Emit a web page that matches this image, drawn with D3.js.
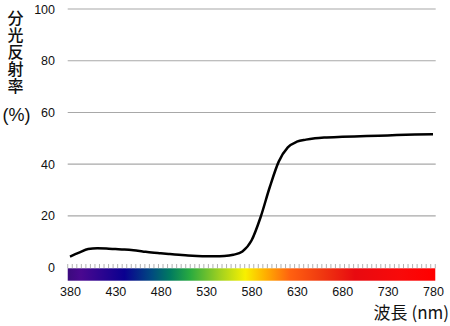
<!DOCTYPE html>
<html>
<head>
<meta charset="utf-8">
<script src="https://cdn.jsdelivr.net/npm/d3@7"></script>
<style>
  body { margin: 0; background: #fff; }
  svg text { font-family: "Liberation Sans", Arial, sans-serif; fill: #111; }
  .cjk { font-family: "Noto Sans CJK JP", "Noto Sans CJK SC", sans-serif; }
</style>
</head>
<body>
<svg id="chart" width="450" height="326"></svg>
<script>
// reflectance curve
let wavelengths = [380, 390, 400, 410, 420, 430, 440, 450, 460, 470, 480, 490, 500, 510, 520, 530, 540, 550,
                   560, 570, 580, 590, 600, 610, 620, 630, 640, 650, 660, 680, 700, 720, 740, 760, 780];
let reflectance = [4.3, 5.8, 7.2, 7.5, 7.4, 7.2, 7.0, 6.7, 6.3, 5.9, 5.6, 5.3, 5.0, 4.7, 4.5, 4.4, 4.4, 4.5,
                   5.0, 6.3, 10.5, 19.5, 31.0, 41.0, 46.5, 48.7, 49.5, 50.0, 50.3, 50.6, 50.8, 51.0, 51.3, 51.5, 51.6];

// spectrum bar colour stops
let specWl    = [380, 392, 440, 470, 490, 512, 545, 573, 595, 623, 656, 694, 743, 780];
let specColor = ["#3d0a80", "#4a0890", "#0a0090", "#004a80", "#007a60", "#28aa40", "#a0d020", "#f8f000",
                 "#ffb000", "#ff6010", "#f03a10", "#e80a10", "#f80a0a", "#ff0000"];

let xTicks = [380, 430, 480, 530, 580, 630, 680, 730, 780];
let yTicks = [0, 20, 40, 60, 80, 100];
let yTitle = "分光反射率";

let svg = d3.select("#chart");

let x = d3.scaleLinear().domain([380, 780]).range([70, 433]);
let y = d3.scaleLinear().domain([0, 100]).range([267.7, 9]);

let gridLeft = 67.7, gridRight = 435.7;

// gridlines (0 line sits under the spectrum bar)
svg.selectAll(".grid")
  .data(yTicks.filter(d => d > 0))
  .enter().append("line")
    .attr("class", "grid")
    .attr("x1", gridLeft).attr("x2", gridRight)
    .attr("y1", d => y(d)).attr("y2", d => y(d))
    .attr("stroke", "#a8a8a8")
    .attr("stroke-width", 1.2);

// y axis labels
svg.append("g")
  .attr("transform", "translate(55,0)")
  .call(d3.axisLeft(y).tickValues(yTicks).tickSize(0).tickPadding(0))
  .call(g => g.select(".domain").remove())
  .selectAll("text")
    .style("font-size", "12.5px")
    .attr("fill", "#111");

// y title, written vertically
svg.append("text")
  .attr("class", "cjk")
  .attr("x", 15.5)
  .attr("y", 10)
  .style("writing-mode", "vertical-rl")
  .style("font-size", "16px")
  .style("letter-spacing", "1px")
  .style("font-weight", "500")
  .text(yTitle);

svg.append("text")
  .attr("x", 16.5)
  .attr("y", 115)
  .attr("dy", "0.35em")
  .style("text-anchor", "middle")
  .style("font-size", "18px")
  .text("(%)");

// spectrum bar
let grad = svg.append("defs").append("linearGradient")
  .attr("id", "spec")
  .attr("gradientUnits", "userSpaceOnUse")
  .attr("x1", x(380)).attr("x2", x(780)).attr("y1", 0).attr("y2", 0);

grad.selectAll("stop")
  .data(specWl)
  .enter().append("stop")
    .attr("offset", d => (d - 380) / 400)
    .attr("stop-color", (d, i) => specColor[i]);

svg.append("rect")
  .attr("x", x(377.5))
  .attr("y", 268.3)
  .attr("width", x(782.5) - x(377.5))
  .attr("height", 12.4)
  .attr("fill", "url(#spec)");

// small ticks above the bar, every 5 nm
svg.selectAll(".mtick")
  .data(d3.range(377.5, 783, 5))
  .enter().append("line")
    .attr("class", "mtick")
    .attr("x1", d => x(d)).attr("x2", d => x(d))
    .attr("y1", 264).attr("y2", 268.3)
    .attr("stroke", "#a0a0a0")
    .attr("stroke-width", 0.8);

// x labels
svg.append("g")
  .attr("transform", "translate(0,284)")
  .call(d3.axisBottom(x).tickValues(xTicks).tickSize(0).tickPadding(3).tickFormat(d3.format("d")))
  .call(g => g.select(".domain").remove())
  .selectAll("text")
    .style("font-size", "12.5px")
    .attr("fill", "#111");

svg.append("text")
  .attr("class", "cjk")
  .attr("x", 449)
  .attr("y", 313)
  .attr("dy", "0.35em")
  .style("text-anchor", "end")
  .style("font-size", "17px")
  .text("波長 (nm)");

// reflectance curve
let line = d3.line()
  .x((d, i) => x(wavelengths[i]))
  .y(d => y(d))
  .curve(d3.curveMonotoneX);

svg.append("path")
  .datum(reflectance)
  .attr("d", line)
  .attr("fill", "none")
  .attr("stroke", "#000")
  .attr("stroke-width", 2.5)
  .attr("stroke-linejoin", "round");
</script>
</body>
</html>
